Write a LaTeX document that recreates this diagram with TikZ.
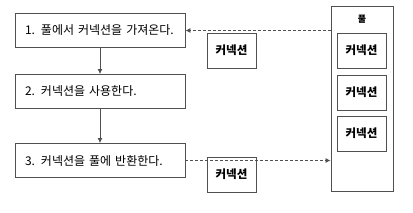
\documentclass[tikz,border=0pt]{standalone}
\usepackage{fontspec}
\setmainfont{Noto Sans CJK KR}
\usetikzlibrary{arrows.meta,positioning}
\definecolor{linegray}{HTML}{505050}

\begin{document}
\begin{tikzpicture}[x=1pt,y=-1pt,
  stepbox/.style={draw=linegray,line width=0.9pt,minimum width=170pt,minimum height=34pt,text width=158pt,align=left,inner xsep=6pt,font=\fontsize{12}{14}\selectfont},
  conn/.style={draw=linegray,line width=0.9pt,minimum width=49pt,minimum height=35pt,inner sep=0pt,font=\fontsize{11.5}{13}\selectfont\bfseries},
  pool/.style={draw=linegray,line width=0.9pt,minimum width=62pt,minimum height=185pt,inner sep=0pt},
  flow/.style={-{Latex[length=5pt,width=5pt]},line width=0.9pt,draw=linegray},
  lend/.style={-{Latex[length=5pt,width=5pt]},line width=0.8pt,draw=linegray,dash pattern=on 3pt off 2pt}
]
\useasboundingbox (0,0) rectangle (413,212);
\node[stepbox] (s1) at (100,30.5) {\hspace*{4pt}1. 풀에서 커넥션을 가져온다.};
\node[stepbox] (s2) at (100,91.5) {\hspace*{4pt}2. 커넥션을 사용한다.};
\node[stepbox] (s3) at (100,160.5) {\hspace*{4pt}3. 커넥션을 풀에 반환한다.};
\node[pool] (p) at (362,98.5) {};
\node[font=\fontsize{9}{11}\selectfont\bfseries] (plbl) at (362,19) {풀};
\node[conn] (p1) at (361.5,50.5) {커넥션};
\node[conn] (p2) at (361.5,92.5) {커넥션};
\node[conn] (p3) at (361.5,133.5) {커넥션};
\node[conn] (c1) at (231.5,50.5) {커넥션};
\node[conn] (c2) at (231.5,174.5) {커넥션};
\draw[flow] (s1) -- (s2);
\draw[flow] (s2) -- (s3);
\draw[lend] (p.west |- s1.east) -- (s1.east);
\draw[lend] (s3.east) -- (p.west |- s3.east);
\end{tikzpicture}
\end{document}
